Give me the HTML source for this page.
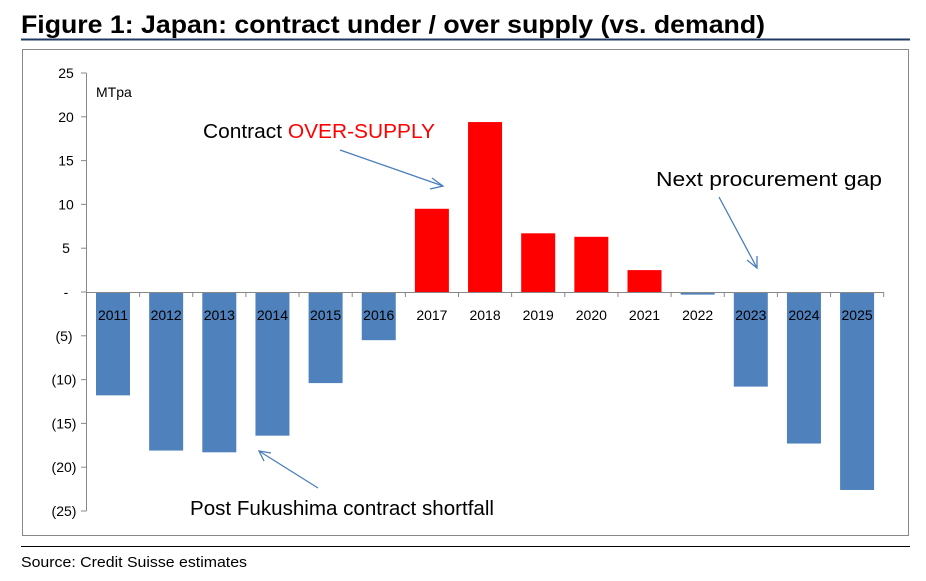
<!DOCTYPE html>
<html><head><meta charset="utf-8"><style>
body{margin:0;background:#fff;width:926px;height:576px;overflow:hidden;font-family:"Liberation Sans",sans-serif}
</style></head><body>
<svg width="926" height="576" xmlns="http://www.w3.org/2000/svg">
<text x="21" y="33" font-size="25" font-weight="bold" fill="#000" textLength="744" lengthAdjust="spacingAndGlyphs">Figure 1: Japan: contract under / over supply (vs. demand)</text>
<line x1="21" y1="39.5" x2="910" y2="39.5" stroke="#1f3b63" stroke-width="2"/>
<rect x="22.5" y="49.5" width="886" height="486" fill="none" stroke="#888" stroke-width="1"/>
<g id="plot"></g>
<text x="96" y="97" font-size="14">MTpa</text>
<text x="203" y="138" font-size="20" textLength="232" lengthAdjust="spacingAndGlyphs">Contract <tspan fill="#ff0000">OVER-SUPPLY</tspan></text>
<text x="656" y="186" font-size="20" textLength="226" lengthAdjust="spacingAndGlyphs">Next procurement gap</text>
<text x="190" y="515" font-size="20" textLength="304" lengthAdjust="spacingAndGlyphs">Post Fukushima contract shortfall</text>
<g stroke="#4a7ebb" stroke-width="1.3" fill="none">
<line x1="340" y1="150" x2="443" y2="186"/><polyline points="432,178 443,186 430,189"/>
<line x1="719" y1="197" x2="757" y2="268"/><polyline points="747,260 757,268 757,256"/>
<line x1="318" y1="488" x2="259" y2="451"/><polyline points="264,461 259,451 271,453"/>
</g>
<line x1="21" y1="546.5" x2="910" y2="546.5" stroke="#000" stroke-width="1"/>
<text x="21" y="567" font-size="15" textLength="226" lengthAdjust="spacingAndGlyphs">Source: Credit Suisse estimates</text>
</svg>
<script>
const categories=["2011","2012","2013","2014","2015","2016","2017","2018","2019","2020","2021","2022","2023","2024","2025"];
const values=[-11.8,-18.1,-18.3,-16.4,-10.4,-5.5,9.5,19.4,6.7,6.3,2.5,-0.3,-10.8,-17.3,-22.6];
const tickValues=[25,20,15,10,5,0,-5,-10,-15,-20,-25];
const tickLabels=["25","20","15","10","5","-","(5)","(10)","(15)","(20)","(25)"];
const NS="http://www.w3.org/2000/svg";
const g=document.getElementById('plot');
const y=v=>292-v*8.76;
const x=i=>113+i*53.15;
function mk(t,a){const e=document.createElementNS(NS,t);for(const k in a)e.setAttribute(k,a[k]);g.appendChild(e);return e;}
const ax=mk('line',{x1:86.5,y1:y(25),x2:86.5,y2:y(-25),stroke:'#888'});


tickValues.forEach((v,i)=>{
 const t=mk('line',{x1:81,y1:y(v),x2:86.5,y2:y(v),stroke:'#888'});
 
 
 const l=mk('text',{x:v>=0?66:64,y:y(v)+5,'font-size':14,'text-anchor':'middle'});
 l.textContent=tickLabels[i];
 
 
});
values.forEach((v,i)=>{
 const top=Math.min(y(v),y(0)),h=Math.abs(y(v)-y(0));
 const r=mk('rect',{x:x(i)-17,y:top,width:34,height:h,fill:v>0?'#ff0000':'#4f81bd'});
 
 
});
const xa=mk('line',{x1:86.5,y1:292.5,x2:884,y2:292.5,stroke:'#888'});


categories.forEach((c,i)=>{
 const t=mk('line',{x1:x(i)+26.6,y1:292.5,x2:x(i)+26.6,y2:297,stroke:'#888'});
 
 
 const l=mk('text',{x:x(i),y:320,'font-size':14,'text-anchor':'middle'});
 l.textContent=c;
 
 
});
</script>
</body></html>
